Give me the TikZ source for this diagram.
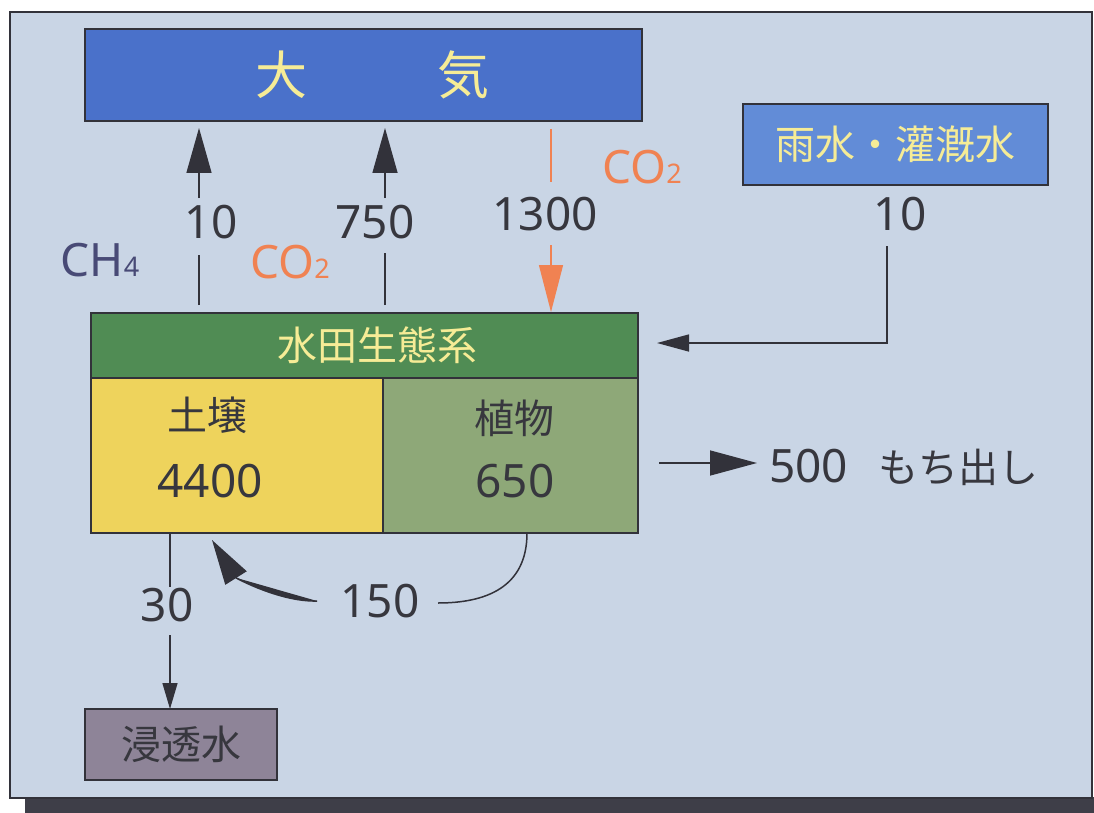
\documentclass[tikz,border=0pt]{standalone}
\usepackage{fontspec}
\setmainfont{Noto Sans}
\newfontfamily\jp{Noto Sans CJK JP}
\usetikzlibrary{arrows.meta}
\definecolor{bgc}{RGB}{201,213,229}
\definecolor{edgec}{RGB}{50,50,58}
\definecolor{shadowc}{RGB}{62,62,72}
\definecolor{atmc}{RGB}{74,113,202}
\definecolor{rainc}{RGB}{98,140,215}
\definecolor{ylw}{RGB}{246,236,150}
\definecolor{ecoc}{RGB}{80,140,84}
\definecolor{soilc}{RGB}{238,211,92}
\definecolor{plantc}{RGB}{142,168,120}
\definecolor{percc}{RGB}{142,132,152}
\definecolor{orng}{RGB}{240,130,82}
\definecolor{txtc}{RGB}{55,55,62}
\definecolor{ch4c}{RGB}{72,74,118}
\tikzset{
  boxnode/.style={draw=edgec, line width=1.4pt, inner sep=0pt, anchor=center},
  cjk/.style={font=\jp\fontsize{40}{44}\selectfont},
  num/.style={font=\fontsize{46}{50}\selectfont, text=txtc, inner sep=0pt},
  conn/.style={draw=edgec, line width=1.5pt},
  bigtip/.style={-{Triangle[length=45pt,width=25pt]}, fill=edgec},
  smalltip/.style={-{Triangle[length=32pt,width=17pt]}},
  tinytip/.style={-{Triangle[length=26pt,width=15pt]}},
  oline/.style={draw=orng, line width=1.3pt},
}
\begin{document}
\begin{tikzpicture}[x=1pt,y=-1pt]
\useasboundingbox (0,0) rectangle (1094,813);
\fill[white] (0,0) rectangle (1094,813);
\fill[shadowc] (25,797) rectangle (1094,813);
\draw[draw=edgec, fill=bgc, line width=1.6pt] (10,12) rectangle (1092,798);

% boxes
\node[boxnode, fill=atmc, minimum width=557pt, minimum height=92pt,
      text=ylw, font=\jp\fontsize{52}{56}\selectfont] (atm) at (363.5,75)
      {\hspace{17pt}大\hspace{130pt}気};
\node[boxnode, fill=rainc, minimum width=305pt, minimum height=81pt,
      text=ylw, cjk] (rain) at (895.5,144.5) {雨水・灌漑水};
\node[boxnode, fill=ecoc, minimum width=547pt, minimum height=65pt,
      text=ylw, cjk] (eco) at (364.5,345.5) {\hspace{25pt}水田生態系};
\node[boxnode, fill=soilc, minimum width=292pt, minimum height=155pt] (soil) at (237,455.5) {};
\node[boxnode, fill=plantc, minimum width=255pt, minimum height=155pt] (plant) at (510.5,455.5) {};
\node[boxnode, fill=percc, minimum width=192pt, minimum height=71pt,
      text=txtc, cjk] (perc) at (181,744.5) {浸透水};

% box texts
\node[cjk, text=txtc, inner sep=0pt] (soilT) at (207,415) {土壌};
\node[num] (soilN) at (210,481) {4400};
\node[cjk, text=txtc, inner sep=0pt] (plantT) at (514,418) {植物};
\node[num] (plantN) at (515,481) {650};

% labels
\node[num] (l10a) at (211,222) {10};
\node[num] (l750) at (375,222) {750};
\node[num] (l1300) at (545,214) {1300};
\node[num] (l10b) at (900,214) {10};
\node[num] (l30) at (167,605) {30};
\node[num] (l150) at (380,601) {150};
\node[num, anchor=west] (l500) at (769,467) {500\hspace{30pt}{\jp\fontsize{40}{44}\selectfont もち出し}};
\node[num, text=ch4c] (ch4) at (100,260) {CH{\fontsize{27}{30}\selectfont 4}};
\node[num, text=orng] (co2a) at (290,262) {CO{\fontsize{27}{30}\selectfont 2}};
\node[num, text=orng] (co2b) at (642,167) {CO{\fontsize{27}{30}\selectfont 2}};

% coordinates for connector ends
\coordinate (a1b) at (199,305); \coordinate (a1m) at (199,255);
\coordinate (a1u) at (199,198); \coordinate (a1t) at (199,128);
\coordinate (a2b) at (385,305); \coordinate (a2m) at (385,253);
\coordinate (a2u) at (385,198); \coordinate (a2t) at (385,128);
\coordinate (o1) at (551,129); \coordinate (o2) at (551,182);
\coordinate (o3) at (551,245); \coordinate (o4) at (551,312);
\coordinate (r1) at (887,246); \coordinate (r2) at (887,343); \coordinate (r3) at (657,343);
\coordinate (e1) at (659,463); \coordinate (e2) at (757,463);
\coordinate (p1) at (170,533); \coordinate (p2) at (170,587);
\coordinate (p3) at (170,635); \coordinate (p4) at (170,709);
\coordinate (c1) at (527,533); \coordinate (c2) at (438,603);
\coordinate (c3) at (317,601); \coordinate (c4) at (212,540);

% connectors
\draw[conn] (a1b) -- (a1m);
\draw[conn, bigtip] (a1u) -- (a1t);
\draw[conn] (a2b) -- (a2m);
\draw[conn, bigtip] (a2u) -- (a2t);
\draw[oline] (o1) -- (o2);
\draw[oline, -{Triangle[length=47pt,width=24pt]}, fill=orng] (o3) -- (o4);
\draw[conn, smalltip] (r1) -- (r2) -- (r3);
\draw[conn, -{Triangle[length=47pt,width=25pt]}] (e1) -- (e2);
\draw[conn] (p1) -- (p2);
\draw[conn, tinytip] (p3) -- (p4);
\draw[conn] (c1) .. controls (527,588) and (485,603) .. (c2);
\draw[conn, bigtip] (c3) .. controls (280,602) and (236,578) .. (c4);
\end{tikzpicture}
\end{document}
